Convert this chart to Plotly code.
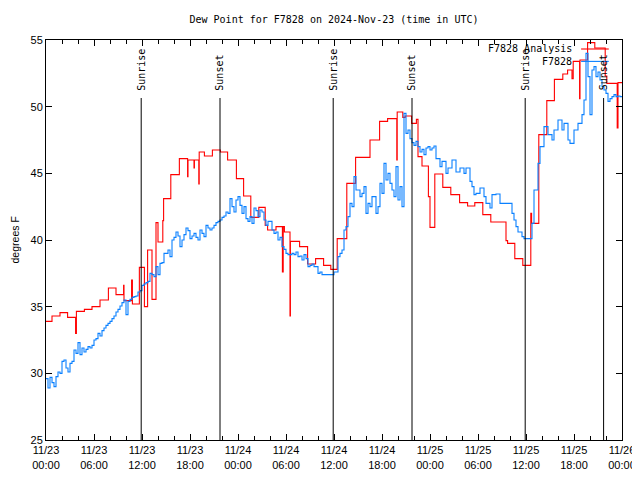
import plotly.graph_objects as go

# ---------------- data (hours since 2024-11-23 00:00 UTC) ----------------
red_hours = [0, 0.75, 1.75, 2.7, 3.7, 3.8, 4.8, 5.75, 6.75, 7.8, 8.75, 9.7, 9.75, 10.7, 10.8,
             11.67, 12.3, 12.7, 13.25, 13.75, 14.0, 14.6, 14.7, 15.6, 16.67, 17.7, 17.75,
             18.5, 18.55, 19.1, 19.15, 19.8, 20.8, 21.8, 22.7, 23.8, 24.7, 25.6, 26.6, 27.4,
             27.7, 28.75, 29.55, 29.65, 29.8, 30.5, 30.55, 31.7, 32.7, 33.7, 34.7, 35.6, 36.4,
             37.6, 38.7, 40.5, 41.7, 42.7, 43.85, 43.9, 44.6, 44.9, 45.7, 46.3, 46.5, 47.0,
             47.8, 48.0, 48.6, 49.6, 50.6, 51.7, 52.7, 53.6, 54.6, 55.6, 57.5, 57.7, 58.6,
             59.6, 60.6, 60.7, 61.6, 62.6, 63.55, 64.6, 65.2, 65.75, 65.9, 66.7, 66.75, 67.7,
             68.6, 69.9, 70.1, 71.4, 71.5, 72]
red_vals = [33.9, 34.3, 34.55, 34.2, 33.0, 34.65, 34.8, 35.0, 35.5, 36.4, 35.9, 36.6, 35.45, 37.0, 35.2,
            37.95, 35.0, 39.25, 35.55, 41.3, 39.85, 41.45, 43.1, 44.9, 46.1, 44.75, 46.0,
            45.4, 46.0, 44.2, 46.6, 46.3, 46.75, 46.6, 46.0, 44.6, 43.3, 41.7, 42.45, 41.1,
            40.75, 41.0, 37.6, 41.0, 40.6, 34.3, 39.9, 39.5, 38.2, 38.6, 38.1, 37.8, 40.1,
            44.25, 46.2, 47.5, 48.9, 49.1, 46.0, 49.6, 49.2, 49.3, 48.75, 49.05, 46.25, 45.55,
            43.25, 40.95, 44.95, 43.95, 43.4, 42.8, 42.55, 42.8, 41.9, 41.35, 39.95, 39.75, 38.6,
            38.1, 42.0, 41.25, 47.9, 50.45, 52.05, 52.45, 52.75, 52.1, 53.4, 50.6, 53.5, 54.8,
            54.4, 52.3, 51.75, 48.4, 51.8, 51.8]

# station observations, one value every quarter hour
blue_vals = [
    29.6, 28.9, 29.7, 29.3,   29.0, 29.75, 30.1, 30.0,   30.9, 31.0, 30.4, 30.1,
    30.75, 30.9, 31.75, 31.5, 32.3, 31.4, 31.9, 31.6,    31.8, 32.0, 31.9, 32.1,
    32.5, 32.6, 33.0, 32.8,   33.2, 33.4, 33.6, 33.75,   33.9, 34.1, 34.3, 34.6,
    34.8, 35.05, 35.3, 35.5,  34.4, 35.4, 35.55, 35.7,   35.75, 35.8, 36.1, 36.2,
    36.6, 36.7, 36.8, 36.9,   37.5, 37.4, 37.25, 38.0,   37.4, 38.25, 38.3, 39.0,
    39.0, 39.25, 38.75, 40.0, 40.2, 40.6, 40.3, 39.5,    40.0, 40.4, 40.9, 40.7,
    40.1, 40.3, 40.5, 40.2,   40.0, 40.75, 40.5, 40.25,  41.1, 40.9, 40.75, 40.9,
    41.1, 41.3, 41.4, 41.5,   41.7, 41.8, 42.1, 42.0,    43.1, 42.5, 42.1, 43.0,
    43.25, 42.6, 42.0, 42.5,  41.6, 41.4, 41.75, 41.25,  42.4, 42.2, 41.75, 42.25,
    42.1, 41.5, 41.1, 41.4,   41.4, 40.75, 40.5, 40.6,   40.0, 40.2, 39.5, 39.3,
    39.0, 38.9, 38.9, 39.0,   38.9, 39.1, 38.75, 38.8,   38.5, 38.9, 38.6, 38.0,
    38.1, 38.2, 38.0, 38.0,   37.5, 37.6, 37.4, 37.4,    37.4, 37.4, 37.4, 37.4,
    37.6, 37.6, 38.75, 39.0,  39.25, 40.75, 41.0, 41.75, 42.75, 42.5, 44.75, 43.75,
    43.75, 43.25, 43.5, 44.0, 42.0, 42.75, 42.5, 43.25,  43.25, 42.0, 42.5, 44.25,
    43.5, 45.75, 44.5, 45.0,  44.25, 43.75, 43.25, 45.5, 43.0, 44.0, 42.5, 49.5,
    48.0, 48.25, 47.6, 47.3,  47.1, 47.4, 47.0, 46.6,    46.8, 46.4, 46.9, 47.0,
    46.75, 46.9, 47.05, 46.1, 46.1, 45.5, 45.9, 45.9,    45.0, 45.4, 45.4, 46.0,
    46.0, 45.1, 45.1, 45.4,   45.4, 45.0, 45.4, 45.4,    44.4, 44.0, 43.4, 43.5,
    43.5, 43.9, 43.9, 43.25,  42.75, 42.75, 42.4, 43.4,  43.4, 43.45, 43.45, 42.75,
    42.75, 42.75, 42.75, 42.75, 42.75, 42.0, 41.5, 41.0, 40.6, 40.6, 40.25, 40.1,
    40.1, 40.1, 40.1, 41.25,  43.75, 43.75, 45.75, 47.0, 47.0, 48.5, 48.5, 47.9,
    47.9, 47.5, 48.25, 48.25, 49.0, 49.0, 48.25, 48.75,  48.75, 47.5, 47.25, 47.25,
    48.25, 48.25, 48.75, 48.75, 49.4, 50.5, 54.0, 52.25, 49.4, 52.75, 53.0, 52.25,
    52.6, 52.0, 51.5, 51.25,  51.0, 50.4, 50.6, 50.75,   50.9, 50.75, 50.8, 50.75,
]
blue_hours = [i * 0.25 for i in range(len(blue_vals))] + [72]
blue_vals_plot = blue_vals + [blue_vals[-1]]

event_hours = [11.9, 21.75, 35.9, 45.75, 59.9, 69.7]
event_labels = ["Sunrise", "Sunset", "Sunrise", "Sunset", "Sunrise", "Sunset"]
event_top = 50.65

tick_hours = [0, 6, 12, 18, 24, 30, 36, 42, 48, 54, 60, 66, 72]
tick_labels = ["11/23<br>00:00", "11/23<br>06:00", "11/23<br>12:00", "11/23<br>18:00",
               "11/24<br>00:00", "11/24<br>06:00", "11/24<br>12:00", "11/24<br>18:00",
               "11/25<br>00:00", "11/25<br>06:00", "11/25<br>12:00", "11/25<br>18:00",
               "11/26<br>00:00"]
series_names = ["F7828 Analysis", "F7828"]
series_colors = ["#ff0000", "#0a80ff"]

MONO = "DejaVu Sans Mono"
SANS = "Liberation Sans"

# page body has an 8px margin: figure is 632x472 placed at (8, 8)
FIG_W, FIG_H = 632, 472

fig = go.Figure()
fig.add_trace(go.Scatter(x=red_hours, y=red_vals, mode="lines", line_shape="hv",
                         line=dict(color=series_colors[0], width=1.1), name=series_names[0]))
fig.add_trace(go.Scatter(x=blue_hours, y=blue_vals_plot, mode="lines", line_shape="hv",
                         line=dict(color=series_colors[1], width=1.1), name=series_names[1]))

shapes = []
annotations = []
for h, lab in zip(event_hours, event_labels):
    shapes.append(dict(type="line", xref="x", yref="y", x0=h, x1=h, y0=25, y1=event_top,
                       line=dict(color="black", width=1), layer="above"))
    annotations.append(dict(x=h, y=event_top + 0.4, xref="x", yref="y", text=lab,
                            textangle=-90, showarrow=False, xanchor="center", yanchor="bottom",
                            font=dict(family=MONO, size=10, color="black")))

# manual key (top right)
key_y = [0.9775, 0.9465]
for name, col, ky in zip(series_names, series_colors, key_y):
    annotations.append(dict(x=0.917, y=ky, xref="paper", yref="paper", text=name,
                            showarrow=False, xanchor="right", yanchor="middle",
                            font=dict(family=MONO, size=10, color="black")))
    shapes.append(dict(type="line", xref="paper", yref="paper", x0=0.929, x1=0.977,
                       y0=ky, y1=ky, line=dict(color=col, width=1.1), layer="above"))

annotations.append(dict(x=-0.053, y=0.5, xref="paper", yref="paper", text="degrees F",
                        textangle=-90, showarrow=False, xanchor="center", yanchor="middle",
                        font=dict(family=SANS, size=10.5, color="black")))

fig.update_layout(
    width=FIG_W, height=FIG_H,
    margin=dict(l=38, r=18, t=32, b=40, autoexpand=False),
    paper_bgcolor="white", plot_bgcolor="white",
    showlegend=False,
    title=dict(text="Dew Point for F7828 on 2024-Nov-23 (time in UTC)", x=0.5, xref="paper",
               y=1 - 11 / FIG_H, yanchor="middle", automargin=False,
               font=dict(family=MONO, size=10, color="black")),
    shapes=shapes, annotations=annotations,
    xaxis=dict(range=[0, 72], tickvals=tick_hours, ticktext=tick_labels, automargin=False,
               ticks="inside", ticklen=6, tickcolor="black", showgrid=False, zeroline=False,
               showline=True, linecolor="black", linewidth=1, mirror="ticks",
               minor=dict(dtick=2, tick0=0, ticks="inside", ticklen=4, tickcolor="black"),
               tickfont=dict(family=SANS, size=11, color="black")),
    yaxis=dict(range=[25, 55], tickvals=[25, 30, 35, 40, 45, 50, 55], automargin=False,
               ticks="inside", ticklen=6, tickcolor="black", showgrid=False, zeroline=False,
               showline=True, linecolor="black", linewidth=1, mirror="ticks",
               tickfont=dict(family=SANS, size=11, color="black")),
)

fig.write_html("out.html")
